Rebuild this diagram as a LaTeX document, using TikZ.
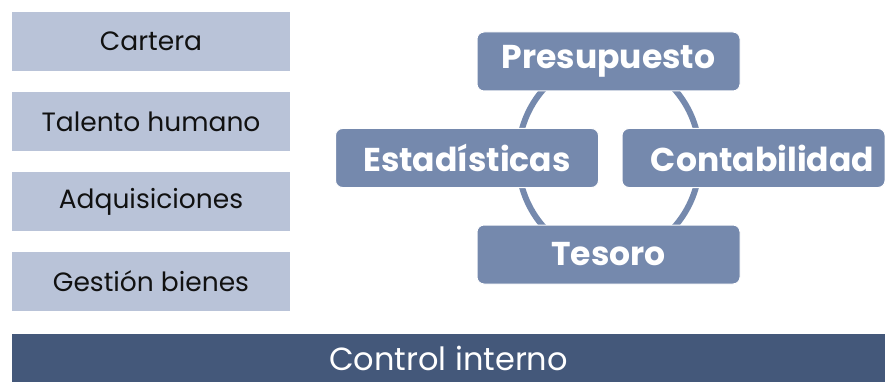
\documentclass[tikz,border=0pt]{standalone}
\usepackage{fontspec}
\setmainfont{Poppins}
\definecolor{lightbox}{HTML}{B9C3D8}
\definecolor{midbox}{HTML}{7589AD}
\definecolor{darkbar}{HTML}{44587A}
\definecolor{txt}{HTML}{111111}
\tikzset{
  leftbox/.style={fill=lightbox, draw=none, minimum width=278pt, minimum height=59pt, inner sep=0pt, text=txt, font=\fontsize{26.5}{30}\selectfont},
  ringbox/.style={fill=midbox, draw=white, line width=1pt, rounded corners=7pt, minimum width=263pt, minimum height=59pt, inner sep=0pt, text=white, font=\bfseries\fontsize{33}{38}\selectfont},
  barbox/.style={fill=darkbar, draw=none, minimum width=873pt, minimum height=48pt, inner sep=0pt, text=white, font=\fontsize{32}{36}\selectfont},
  ring/.style={draw=midbox, line width=6pt}
}
\begin{document}
\begin{tikzpicture}[x=1pt,y=1pt]
\useasboundingbox (0,0) rectangle (885,-382);
\fill[white] (0,0) rectangle (885,-382);
% ring behind
\coordinate (rc) at (609,-158);
\draw[ring] (rc) ellipse [x radius=91, y radius=99];
% left boxes
\node[leftbox] (cartera) at (151,-41.5) {Cartera};
\node[leftbox] (talento) at (151,-121.5) {Talento humano};
\node[leftbox] (adq) at (151,-201.5) {Adquisiciones};
\node[leftbox] (gestion) at (151,-281) {Gestión bienes};
% ring boxes
\node[ringbox] (pres) at (608.5,-61.5) {Presupuesto};
\node[ringbox] (est) at (467,-158) {Estadísticas};
\node[ringbox] (cont) at (753.5,-158) {\hspace*{18pt}Contabilidad};
\node[ringbox] (tes) at (608.5,-254.5) {Tesoro};
% bottom bar
\node[barbox] (bar) at (448.5,-358) {Control interno};
\end{tikzpicture}
\end{document}
